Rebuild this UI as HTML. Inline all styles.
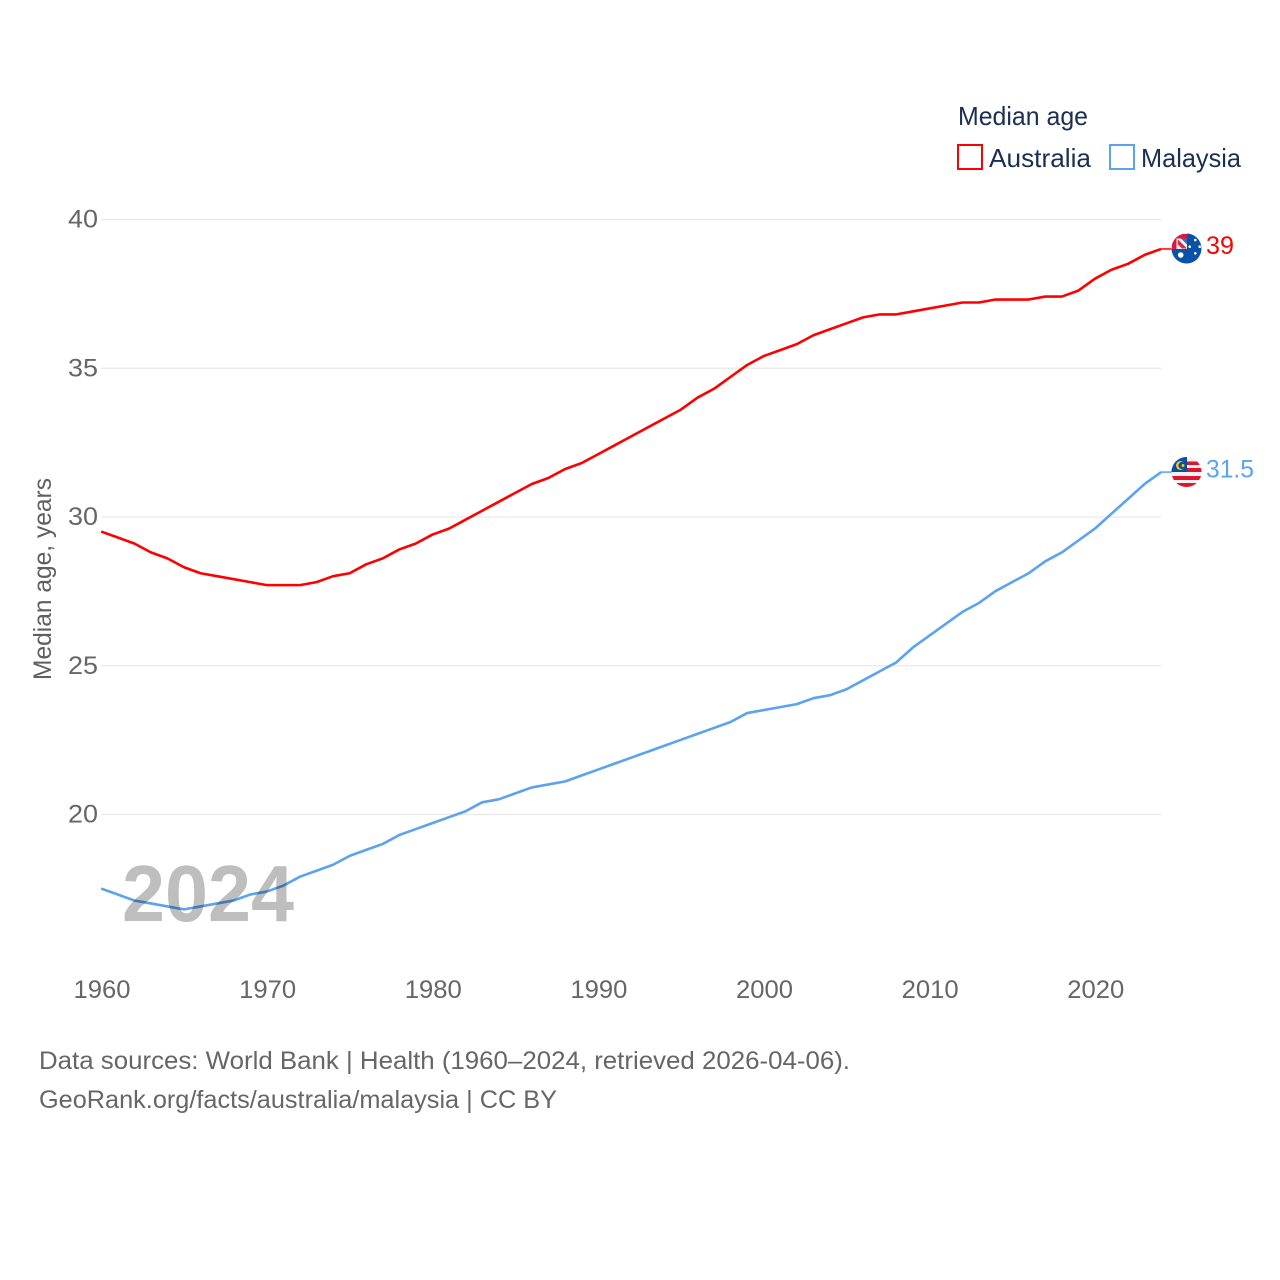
<!DOCTYPE html>
<html lang="en">
<head>
<meta charset="utf-8">
<title>Median age: Australia and Malaysia</title>
<style>
html,body{margin:0;padding:0;background:#fff;}
svg{display:block;font-family:"Liberation Sans",sans-serif;}
</style>
</head>
<body>
<svg id="chart" xmlns="http://www.w3.org/2000/svg" width="1280" height="1280" viewBox="0 0 1280 1280">
  <defs>
    <clipPath id="clip-au"><circle cx="1186.5" cy="248.5" r="15"/></clipPath>
    <clipPath id="clip-my"><circle cx="1186.5" cy="472" r="15"/></clipPath>
  </defs>
  <rect x="0" y="0" width="1280" height="1280" fill="#fff"/>
  <g id="grid"></g>
  <g id="yticks"></g>
  <g id="xticks"></g>
  <text transform="translate(51 680) rotate(-90)" font-size="25" fill="#5f5f5f" textLength="202" lengthAdjust="spacingAndGlyphs">Median age, years</text>

  <g id="series"></g>
  <text x="122" y="921" font-size="80" font-weight="bold" fill="#bebebe" style="mix-blend-mode:multiply" textLength="172" lengthAdjust="spacingAndGlyphs">2024</text>

  <g clip-path="url(#clip-au)">
    <rect x="1171" y="233" width="31" height="31" fill="#0a52a8"/>
    <rect x="1171" y="233" width="16" height="16" fill="#f2f2f2"/>
    <rect x="1171" y="234" width="16" height="4.500" fill="#e0143c"/>
    <rect x="1172" y="234" width="4.500" height="15" fill="#e0143c"/>
    <path d="M1178 239.500L1187 248.500H1182L1177.500 244Z" fill="#c8324a"/>
    <path d="M1181 238.500L1187 238.500V244.500Z" fill="#3a6bb5"/>
    <circle cx="1180.7" cy="255" r="2.8" fill="#fff"/>
    <circle cx="1189.7" cy="246.7" r="1.3" fill="#fff"/>
    <circle cx="1195.3" cy="240" r="1.3" fill="#fff"/>
    <circle cx="1199.7" cy="246.7" r="1.3" fill="#fff"/>
    <circle cx="1195.3" cy="253.3" r="1.3" fill="#fff"/>
  </g>
  <g clip-path="url(#clip-my)">
    <rect x="1171" y="456" width="31" height="32" fill="#f2f2f2"/>
    <rect x="1171" y="461.500" width="31" height="3.500" fill="#e0142c"/>
    <rect x="1171" y="468" width="31" height="4" fill="#e0142c"/>
    <rect x="1171" y="476" width="31" height="4" fill="#e0142c"/>
    <rect x="1171" y="483" width="31" height="5" fill="#e0142c"/>
    <rect x="1171" y="456" width="16" height="16" fill="#0b4ea2"/>
    <circle cx="1180.5" cy="465.500" r="4.500" fill="#f5c518"/>
    <circle cx="1182" cy="465.500" r="3.600" fill="#0b4ea2"/>
    <circle cx="1183" cy="465.500" r="1.500" fill="#f5c518"/>
  </g>

  <text id="label-au" x="1206" y="254" font-size="25" fill="#ff0000" textLength="28" lengthAdjust="spacingAndGlyphs"></text>
  <text id="label-my" x="1206" y="477.500" font-size="25" fill="#5ba3ee" textLength="48" lengthAdjust="spacingAndGlyphs"></text>

  <g>
    <text x="958" y="125" font-size="26" fill="#1a2f52" textLength="130" lengthAdjust="spacingAndGlyphs">Median age</text>
    <rect x="958" y="145" width="24" height="24" fill="#fff" stroke="#ff0000" stroke-width="2"/>
    <text x="989" y="167" font-size="26" fill="#1a2f52" textLength="102" lengthAdjust="spacingAndGlyphs">Australia</text>
    <rect x="1110" y="145" width="24" height="24" fill="#fff" stroke="#5ba3ee" stroke-width="2"/>
    <text x="1141" y="167" font-size="26" fill="#1a2f52" textLength="100" lengthAdjust="spacingAndGlyphs">Malaysia</text>
  </g>

  <text x="39" y="1069" font-size="25" fill="#666666" textLength="811" lengthAdjust="spacingAndGlyphs">Data sources: World Bank | Health (1960–2024, retrieved 2026-04-06).</text>
  <text x="39" y="1108" font-size="25" fill="#666666" textLength="518" lengthAdjust="spacingAndGlyphs">GeoRank.org/facts/australia/malaysia | CC BY</text>
</svg>
<script>
const startYear = 1960;
const australiaValues = [29.5,29.3,29.1,28.8,28.6,28.3,28.1,28.0,27.9,27.8,27.7,27.7,27.7,27.8,28.0,28.1,28.4,28.6,28.9,29.1,29.4,29.6,29.9,30.2,30.5,30.8,31.1,31.3,31.6,31.8,32.1,32.4,32.7,33.0,33.3,33.6,34.0,34.3,34.7,35.1,35.4,35.6,35.8,36.1,36.3,36.5,36.7,36.8,36.8,36.9,37.0,37.1,37.2,37.2,37.3,37.3,37.3,37.4,37.4,37.6,38.0,38.3,38.5,38.8,39.0];
const malaysiaValues = [17.5,17.3,17.1,17.0,16.9,16.8,16.9,17.0,17.1,17.3,17.4,17.6,17.9,18.1,18.3,18.6,18.8,19.0,19.3,19.5,19.7,19.9,20.1,20.4,20.5,20.7,20.9,21.0,21.1,21.3,21.5,21.7,21.9,22.1,22.3,22.5,22.7,22.9,23.1,23.4,23.5,23.6,23.7,23.9,24.0,24.2,24.5,24.8,25.1,25.6,26.0,26.4,26.8,27.1,27.5,27.8,28.1,28.5,28.8,29.2,29.6,30.1,30.6,31.1,31.5];
const yTickValues = [40,35,30,25,20];
const xTickValues = [1960,1970,1980,1990,2000,2010,2020];

const NS = 'http://www.w3.org/2000/svg';
function xScale(year){ return 101.2 + (year - 1960) * (1060 / 64); }
function yScale(v){ return 219.2 + (40 - v) * 29.75; }
function make(tag, attrs, parent){
  const el = document.createElementNS(NS, tag);
  for (const k in attrs) el.setAttribute(k, attrs[k]);
  parent.appendChild(el);
  return el;
}

const grid = document.getElementById('grid');
const yticks = document.getElementById('yticks');
const xticks = document.getElementById('xticks');
const series = document.getElementById('series');

yTickValues.forEach(function(v){
  const line = make('line', {x1:101.2, x2:1161.2, y1:yScale(v) + 0.3, y2:yScale(v) + 0.3, stroke:'#e9e9e9', 'stroke-width':1.2}, grid);
  
  
  const t = make('text', {x:98, y:yScale(v) + 8.5, 'font-size':25, fill:'#666666', 'text-anchor':'end', textLength:30, lengthAdjust:'spacingAndGlyphs'}, yticks);
  t.textContent = String(v);
  
  
});

xTickValues.forEach(function(y){
  const t = make('text', {x:xScale(y) - 27.7, y:998, 'font-size':25, fill:'#666666', textLength:57, lengthAdjust:'spacingAndGlyphs'}, xticks);
  t.textContent = String(y);
  
  
});

function pathFor(values){
  return values.map(function(v, i){
    return (i ? 'L' : 'M') + xScale(startYear + i).toFixed(2) + ' ' + yScale(v).toFixed(2);
  }).join('');
}
function endYear(values){ return startYear + values.length - 1; }

const auLine = make('path', {d:pathFor(australiaValues), fill:'none', stroke:'#ff0000', 'stroke-width':2.6, 'stroke-linejoin':'round'}, series);



const myLine = make('path', {d:pathFor(malaysiaValues), fill:'none', stroke:'#5ba3ee', 'stroke-width':2.6, 'stroke-linejoin':'round'}, series);



const auLast = australiaValues[australiaValues.length - 1];
const myLast = malaysiaValues[malaysiaValues.length - 1];

const auConnector = make('line', {x1:xScale(endYear(australiaValues)), x2:1173, y1:yScale(auLast), y2:yScale(auLast), stroke:'#ff0000', 'stroke-width':1.5}, series);



const myConnector = make('line', {x1:xScale(endYear(malaysiaValues)), x2:1173, y1:yScale(myLast), y2:yScale(myLast), stroke:'#5ba3ee', 'stroke-width':1.5}, series);



document.getElementById('label-au').textContent = String(auLast);
document.getElementById('label-my').textContent = String(myLast);
</script>
</body>
</html>
